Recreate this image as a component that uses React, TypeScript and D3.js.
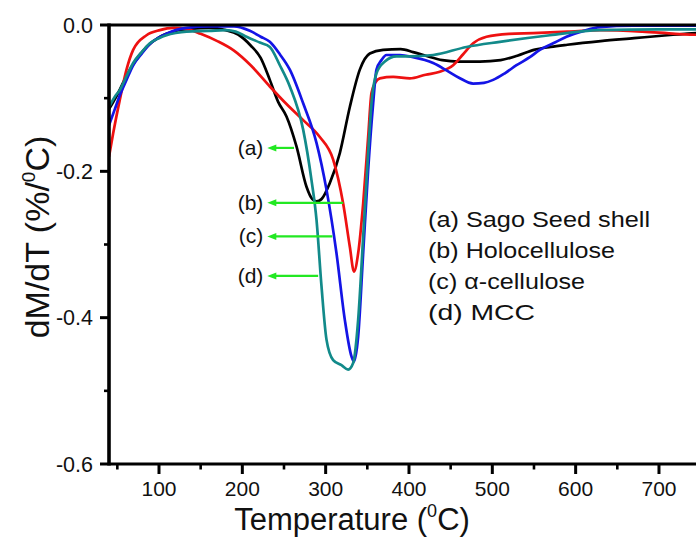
import React from "react";
import * as d3 from "d3";

// ---- data (temperature in °C, dM/dT in %/°C) ----
const tempA = [40, 50, 60, 70, 85, 100, 120, 140, 160, 180, 195, 210, 222, 233, 243, 253, 265, 277, 284, 289, 295, 305, 317, 329, 341, 353, 369, 390, 405, 420, 440, 460, 485, 510, 530, 550, 570, 590, 630, 670, 710, 760];
const dtgA = [-0.115, -0.095, -0.072, -0.052, -0.03, -0.017, -0.008, -0.005, -0.004, -0.007, -0.013, -0.028, -0.045, -0.075, -0.105, -0.125, -0.166, -0.221, -0.238, -0.241, -0.238, -0.216, -0.175, -0.112, -0.061, -0.039, -0.034, -0.033, -0.037, -0.042, -0.048, -0.05, -0.05, -0.048, -0.042, -0.034, -0.03, -0.027, -0.022, -0.018, -0.014, -0.01];

const tempB = [40, 45, 53, 61, 69, 85, 101, 117, 135, 150, 170, 190, 210, 233, 253, 273, 293, 309, 321, 329, 334, 339, 345, 351, 355, 360, 365, 381, 401, 420, 437, 453, 465, 477, 493, 520, 549, 590, 630, 680, 720, 760];
const dtgB = [-0.18, -0.148, -0.102, -0.061, -0.034, -0.014, -0.007, -0.004, -0.006, -0.012, -0.022, -0.035, -0.055, -0.084, -0.108, -0.13, -0.153, -0.184, -0.244, -0.303, -0.337, -0.312, -0.244, -0.153, -0.093, -0.078, -0.073, -0.071, -0.073, -0.068, -0.064, -0.055, -0.04, -0.025, -0.016, -0.012, -0.011, -0.009, -0.007, -0.009, -0.012, -0.014];

const tempC = [40, 47, 53, 61, 69, 80, 89, 100, 109, 120, 133, 160, 190, 209, 222, 233, 245, 257, 273, 289, 301, 313, 323, 331, 334, 339, 345, 351, 357, 361, 367, 373, 389, 405, 429, 445, 460, 477, 490, 501, 515, 529, 545, 557, 575, 589, 610, 629, 669, 760];
const dtgC = [-0.137, -0.115, -0.096, -0.075, -0.055, -0.038, -0.026, -0.017, -0.012, -0.007, -0.004, -0.002, -0.002, -0.008, -0.016, -0.023, -0.04, -0.061, -0.107, -0.161, -0.225, -0.312, -0.403, -0.453, -0.46, -0.426, -0.312, -0.198, -0.107, -0.061, -0.048, -0.041, -0.041, -0.044, -0.052, -0.062, -0.072, -0.08, -0.079, -0.075, -0.066, -0.055, -0.044, -0.034, -0.024, -0.016, -0.008, -0.003, -0.001, -0.001];

const tempD = [40, 47, 53, 61, 69, 80, 89, 100, 109, 120, 133, 160, 180, 192, 205, 221, 233, 245, 257, 273, 283, 289, 295, 301, 309, 319, 327, 333, 339, 345, 351, 355, 361, 371, 385, 400, 429, 469, 509, 569, 629, 700, 760];
const dtgD = [-0.112, -0.098, -0.089, -0.07, -0.052, -0.036, -0.025, -0.018, -0.014, -0.011, -0.009, -0.008, -0.007, -0.009, -0.016, -0.024, -0.03, -0.055, -0.084, -0.143, -0.212, -0.266, -0.357, -0.43, -0.458, -0.465, -0.471, -0.462, -0.403, -0.29, -0.175, -0.107, -0.066, -0.05, -0.043, -0.043, -0.041, -0.03, -0.023, -0.014, -0.007, -0.006, -0.006];

const seriesNames = ["a", "b", "c", "d"];
const seriesColors = ["#000000", "#ee1111", "#1414e6", "#128a8a"];
const drawOrder = [0, 1, 2, 3];

const legendLabels = ["(a) Sago Seed shell", "(b) Holocellulose", "(c) \u03b1-cellulose", "(d) MCC"];
const calloutLabels = ["(a)", "(b)", "(c)", "(d)"];
// callout arrow: start temperature, end temperature (on curve), level
const calloutStartT = [230, 230, 230, 230];
const calloutEndT = [262, 321, 308, 291];
const calloutLevel = [-0.168, -0.243, -0.289, -0.343];

const xMajorTicks = [100, 200, 300, 400, 500, 600, 700];
const xMinorTicks = [50, 150, 250, 350, 450, 550, 650, 750];
const yMajorTicks = [0, -0.2, -0.4, -0.6];
const yMajorLabels = ["0.0", "-0.2", "-0.4", "-0.6"];
const yMinorTicks = [-0.1, -0.3, -0.5];

const W = 696;
const H = 537;
const FONT = "'Liberation Sans', Arial, sans-serif";

export default function App() {
  const left = 109;
  const top = 25;
  const bottom = 464;
  const x = d3.scaleLinear().domain([40, 760]).range([left, left + 720 * 0.8333]);
  const y = d3.scaleLinear().domain([0, -0.6]).range([top, bottom]);

  const temps = [tempA, tempB, tempC, tempD];
  const vals = [dtgA, dtgB, dtgC, dtgD];
  const line = d3
    .line<[number, number]>()
    .x((d) => x(d[0]))
    .y((d) => y(d[1]))
    .curve(d3.curveMonotoneX);

  const green = "#22e822";

  return (
    <svg width={W} height={H} style={{ position: "absolute", left: 0, top: 0, background: "#fff" }} fontFamily={FONT}>
      <rect x={0} y={0} width={W} height={H} fill="#fff" />
      <defs>
        <clipPath id="plot">
          <rect x={left} y={top - 4} width={W - left} height={bottom - top + 4} />
        </clipPath>
      </defs>

      {/* curves */}
      <g clipPath="url(#plot)">
        {drawOrder.map((i) => (
          <path
            key={seriesNames[i]}
            d={line(temps[i].map((t, k) => [t, vals[i][k]] as [number, number])) || ""}
            fill="none"
            stroke={seriesColors[i]}
            strokeWidth={2.7}
            strokeLinejoin="round"
          />
        ))}
      </g>

      {/* axes */}
      <line x1={left} x2={W} y1={top} y2={top} stroke="#000" strokeWidth={3.2} />
      <line x1={left} x2={W} y1={bottom} y2={bottom} stroke="#000" strokeWidth={3.2} />
      <line x1={left} x2={left} y1={top - 1.6} y2={bottom + 1.6} stroke="#000" strokeWidth={3.6} />

      {xMajorTicks.map((t) => (
        <g key={"xM" + t}>
          <line x1={x(t)} x2={x(t)} y1={bottom} y2={bottom + 10} stroke="#000" strokeWidth={3} />
          <text x={x(t)} y={496} fontSize={21} textAnchor="middle" fill="#111">
            {t}
          </text>
        </g>
      ))}
      {xMinorTicks.map((t) => (
        <line key={"xm" + t} x1={x(t)} x2={x(t)} y1={bottom} y2={bottom + 5.5} stroke="#000" strokeWidth={2.6} />
      ))}
      {yMajorTicks.map((v, i) => (
        <g key={"yM" + v}>
          <line x1={left - 9} x2={left} y1={y(v)} y2={y(v)} stroke="#000" strokeWidth={3} />
          <text x={93} y={y(v) + 7.5} fontSize={21.5} textAnchor="end" fill="#111">
            {yMajorLabels[i]}
          </text>
        </g>
      ))}
      {yMinorTicks.map((v) => (
        <line key={"ym" + v} x1={left - 5} x2={left} y1={y(v)} y2={y(v)} stroke="#000" strokeWidth={2.6} />
      ))}

      {/* axis titles */}
      <text x={352} y={529.5} fontSize={31} textAnchor="middle" fill="#111">
        Temperature (<tspan fontSize={18} dy={-13}>0</tspan>
        <tspan dy={13}>C)</tspan>
      </text>
      <text transform="translate(49,237) rotate(-90)" fontSize={34} textAnchor="middle" fill="#111">
        dM/dT (%/<tspan fontSize={19} dy={-14}>0</tspan>
        <tspan dy={14}>C)</tspan>
      </text>

      {/* callouts */}
      {calloutLabels.map((lab, i) => {
        const yy = y(calloutLevel[i]);
        const x0 = x(calloutStartT[i]);
        const x1 = x(calloutEndT[i]);
        return (
          <g key={"c" + lab}>
            <line x1={x0 + 6} x2={x1} y1={yy} y2={yy} stroke={green} strokeWidth={2.2} />
            <path d={`M${x0},${yy} L${x0 + 9},${yy - 3.5} L${x0 + 9},${yy + 3.5} Z`} fill={green} />
            <text x={x0 - 4} y={yy + 7} fontSize={21} textAnchor="end" fill="#111">
              {lab}
            </text>
          </g>
        );
      })}

      {/* legend text */}
      {legendLabels.map((lab, i) => (
        <text key={"l" + i} x={428} y={227 + i * 31} fontSize={21.5} fill="#111" textLength={[222, 187, 157, 107][i]} lengthAdjust="spacingAndGlyphs">
          {lab}
        </text>
      ))}
    </svg>
  );
}
